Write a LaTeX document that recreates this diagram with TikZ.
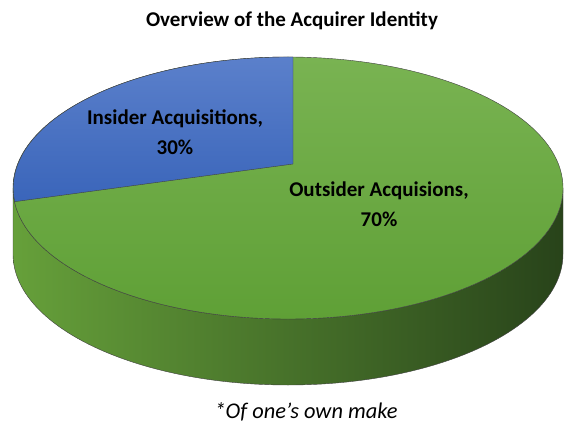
\documentclass[tikz,border=0pt]{standalone}
\usepackage{fontspec}
\setmainfont{Carlito}
\usetikzlibrary{positioning}
\definecolor{greenlight}{HTML}{79B352}
\definecolor{greendark}{HTML}{5FA036}
\definecolor{bluelight}{HTML}{5B80CB}
\definecolor{bluedark}{HTML}{3A65BA}
\definecolor{sidelight}{HTML}{66A03A}
\definecolor{sidemid}{HTML}{436F28}
\definecolor{sidedark}{HTML}{28431A}
\begin{document}
\begin{tikzpicture}[x=1pt, y=1pt]
\tikzstyle{lbl} = [font=\bfseries\fontsize{21}{30}\selectfont, align=center, text=black]
\tikzstyle{edge} = [draw=black!75, line width=0.4pt]
\useasboundingbox (0,0) rectangle (564,426);
% side of the pie
\shade [edge, left color=sidelight, middle color=sidemid, right color=sidedark]
  (13,238) -- (13,172) arc[start angle=180, end angle=360, x radius=275, y radius=131]
  -- (563,238) arc[start angle=0, end angle=-180, x radius=275, y radius=131] -- cycle;
% top face
\shade [edge, top color=greenlight, bottom color=greendark]
  (288,238) ellipse [x radius=275, y radius=131];
\coordinate (apex) at (293,262);
\coordinate (rim) at (293,369);
\shade [edge, top color=bluelight, bottom color=bluedark]
  (apex) -- (rim) arc[start angle=89, end angle=186, x radius=275, y radius=131] -- cycle;
% labels
\node (title) at (292,405) [font=\bfseries\fontsize{21}{25}\selectfont] {Overview of the Acquirer Identity};
\node (insider) at (175,294) [lbl] {Insider Acquisitions,\\30\%};
\node (outsider) at (379,222) [lbl] {Outsider Acquisions,\\70\%};
\node (note) at (306,14) [font=\itshape\fontsize{22.4}{26}\selectfont] {*Of one’s own make};
\end{tikzpicture}
\end{document}
